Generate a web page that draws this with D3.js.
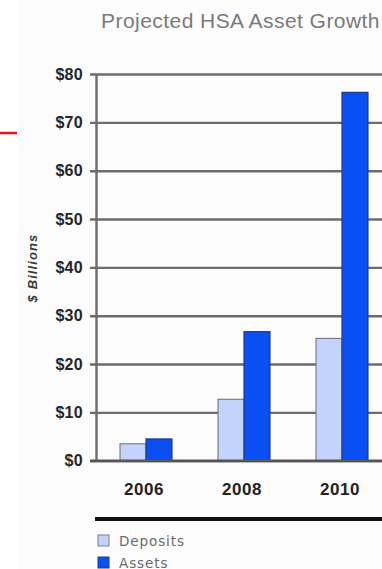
<!DOCTYPE html>
<html>
<head>
<meta charset="utf-8">
<script src="https://cdn.jsdelivr.net/npm/d3@7"></script>
<style>
  html, body { margin: 0; padding: 0; background: #ffffff; overflow: hidden; }
  svg { display: block; }
</style>
</head>
<body>
<svg id="chart" width="382" height="569"></svg>
<script>
// ---- data ----
const categories = ["2006", "2008", "2010"];
const seriesNames = ["Deposits", "Assets"];
const deposits = [3.5, 12.7, 25.3];
const assets = [4.5, 26.7, 76.2];
const yTicks = [0, 10, 20, 30, 40, 50, 60, 70, 80];
const titleText = "Projected HSA Asset Growth";
const yAxisLabel = "$ Billions";

const colors = { Deposits: "#c3d3fb", Assets: "#0a4ff4" };
const strokes = { Deposits: "#7a7f8c", Assets: "#233a86" };

const svg = d3.select("#chart");
const W = 382, H = 569;

// background panel
svg.append("rect").attr("x", 0).attr("y", 0).attr("width", W).attr("height", H).attr("fill", "#ffffff");
svg.append("rect").attr("x", 17).attr("y", 0).attr("width", W - 17).attr("height", H).attr("fill", "#fcfcfc");

// red marker line at left
svg.append("line").attr("x1", 0).attr("x2", 17).attr("y1", 133).attr("y2", 133)
  .attr("stroke", "#e8141c").attr("stroke-width", 2.5);

const axisX = 96.5;
const y = d3.scaleLinear().domain([0, 80]).range([460.7, 74]);
const x0 = d3.scaleBand().domain(categories).range([97, 391]).paddingInner(0.47).paddingOuter(0.235);
const x1 = d3.scaleBand().domain(seriesNames).range([0, x0.bandwidth()]).padding(0);

// title
svg.append("text").attr("x", 101).attr("y", 28)
  .attr("font-family", "'Liberation Sans', Arial, sans-serif")
  .attr("font-size", 21).attr("letter-spacing", 0.45).attr("fill", "#7a7a7a")
  .text(titleText);

// grid + tick labels via axis
const yAxis = d3.axisLeft(y).tickValues(yTicks).tickFormat(d => "$" + d)
  .tickSize(-(W - 90 + 10)).tickPadding(7);
const gy = svg.append("g").attr("transform", "translate(90,0)").call(yAxis);
gy.select(".domain").remove();
gy.selectAll(".tick line").attr("stroke", "#6c6c6c").attr("stroke-width", 2.4);
gy.selectAll(".tick text")
  .attr("font-family", "'Liberation Sans', Arial, sans-serif")
  .attr("font-size", 16).attr("font-weight", "bold").attr("letter-spacing", 0.3).attr("fill", "#262626");

// vertical axis line
svg.append("line").attr("x1", axisX).attr("x2", axisX).attr("y1", y(80)).attr("y2", y(0))
  .attr("stroke", "#6c6c6c").attr("stroke-width", 2.4);

// y axis label
svg.append("text")
  .attr("transform", `translate(37,268) rotate(-90)`)
  .attr("text-anchor", "middle")
  .attr("font-family", "'Liberation Sans', Arial, sans-serif")
  .attr("font-size", 13).attr("font-weight", "bold").attr("font-style", "italic")
  .attr("letter-spacing", 1.1).attr("fill", "#3a3a3a")
  .text(yAxisLabel);

// bars
const rows = categories.map((c, i) => ({ cat: c, values: [
  { key: "Deposits", value: deposits[i] },
  { key: "Assets", value: assets[i] }
]}));

const groups = svg.append("g").selectAll("g").data(rows).join("g")
  .attr("transform", d => `translate(${x0(d.cat)},0)`);
groups.selectAll("rect").data(d => d.values).join("rect")
  .attr("x", d => x1(d.key))
  .attr("y", d => y(d.value))
  .attr("width", x1.bandwidth())
  .attr("height", d => y(0) - y(d.value))
  .attr("fill", d => colors[d.key])
  .attr("stroke", d => strokes[d.key])
  .attr("stroke-width", 1.2);

// baseline redraw over bars
svg.append("line").attr("x1", 90).attr("x2", W).attr("y1", y(0)).attr("y2", y(0))
  .attr("stroke", "#555").attr("stroke-width", 2.4);

// x labels
const xAxis = d3.axisBottom(x0).tickSize(0).tickPadding(0);
const gx = svg.append("g").attr("transform", "translate(-2,483)").call(xAxis);
gx.select(".domain").remove();
gx.selectAll(".tick text")
  .attr("dy", "0.72em")
  .attr("y", 0)
  .attr("font-family", "'Liberation Sans', Arial, sans-serif")
  .attr("font-size", 17).attr("font-weight", "bold").attr("letter-spacing", 0.6).attr("fill", "#222");

// thick black line
svg.append("line").attr("x1", 95).attr("x2", W).attr("y1", 519).attr("y2", 519)
  .attr("stroke", "#111").attr("stroke-width", 4);

// legend
const legend = svg.append("g").selectAll("g").data(seriesNames).join("g")
  .attr("transform", (d, i) => `translate(98,${535 + i * 22})`);
legend.append("rect").attr("width", 11).attr("height", 11)
  .attr("fill", d => colors[d]).attr("stroke", d => strokes[d]).attr("stroke-width", 1);
legend.append("text").attr("x", 21).attr("y", 10.5)
  .attr("font-family", "'DejaVu Sans', Verdana, sans-serif")
  .attr("font-size", 13.5).attr("letter-spacing", 0.9).attr("fill", "#6a6a6a")
  .text(d => d);
</script>
</body>
</html>
